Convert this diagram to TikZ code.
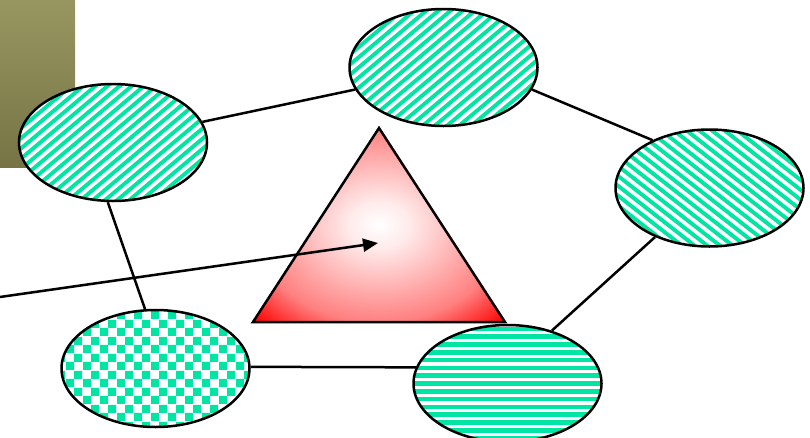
\documentclass[tikz,border=0pt]{standalone}
\usetikzlibrary{patterns.meta,arrows.meta,shapes.geometric}
\definecolor{stripe}{RGB}{0,228,164}
\definecolor{olivetop}{RGB}{152,150,96}
\definecolor{olivebot}{RGB}{118,116,68}
\pgfdeclareradialshading{triglow}{\pgfpoint{0bp}{0bp}}{color(0bp)=(white); color(6bp)=(red!8); color(25bp)=(red!50); color(35bp)=(red); color(50bp)=(red)}
\tikzdeclarepattern{name=mychecker, type=uncolored, bottom left={(0pt,0pt)}, top right={(16.6pt,16.6pt)}, tile size={(16.6pt,16.6pt)}, code={\fill (0pt,0pt) rectangle (8.3pt,8.3pt); \fill (8.3pt,8.3pt) rectangle (16.6pt,16.6pt);}}
\begin{document}
\begin{tikzpicture}[x=1pt,y=-1pt,
  blob/.style={ellipse, draw=black, line width=2.5pt, minimum width=188pt, minimum height=117pt, inner sep=0pt, fill=white, pattern color=stripe},
  striped/.style 2 args={path picture={
      \foreach \k in {-16,...,16}
        \draw[stripe, line width=#2] (path picture bounding box.center)
          ++({-160*cos(#1)-\k*7.8*sin(#1)},{-160*sin(#1)+\k*7.8*cos(#1)})
          -- ++({320*cos(#1)},{320*sin(#1)});}},
  link/.style={line width=2.5pt}]
\useasboundingbox (0,0) rectangle (810,437);
\shade[top color=olivetop, bottom color=olivebot] (0,0) rectangle (75,167);
% triangle
\shade[shading=triglow] (379,128) -- (253,322) -- (505,322) -- cycle;
\draw[line width=2.5pt, line join=miter] (379,128) -- (253,322) -- (505,322) -- cycle;
% ellipses
\node[blob, striped={-40}{3.9pt}] (e1) at (113,142.5) {};
\node[blob, striped={-40}{3.9pt}] (e2) at (443.5,67.5) {};
\node[blob, striped={38}{3.9pt}] (e3) at (709.5,188) {};
\node[blob, fill=none, preaction={fill=white}, pattern=mychecker] (e4) at (155.5,368.5) {};
\node[blob, striped={0}{4.6pt}] (e5) at (507.5,383.5) {};
% connectors
\draw[link] (e1.13) -- (e2.194);
\draw[link] (e2.346) -- (e3.140);
\draw[link] (e3.222) -- (e5.50);
\draw[link] (e4.1) -- (e5.170);
\draw[link] (e4.100) -- (e1.265);
% arrow
\coordinate (src) at (0,297);
\coordinate (tip) at (378,243);
\draw[link, -{Triangle[length=15pt,width=13pt]}] (src) -- (tip);
\end{tikzpicture}
\end{document}
